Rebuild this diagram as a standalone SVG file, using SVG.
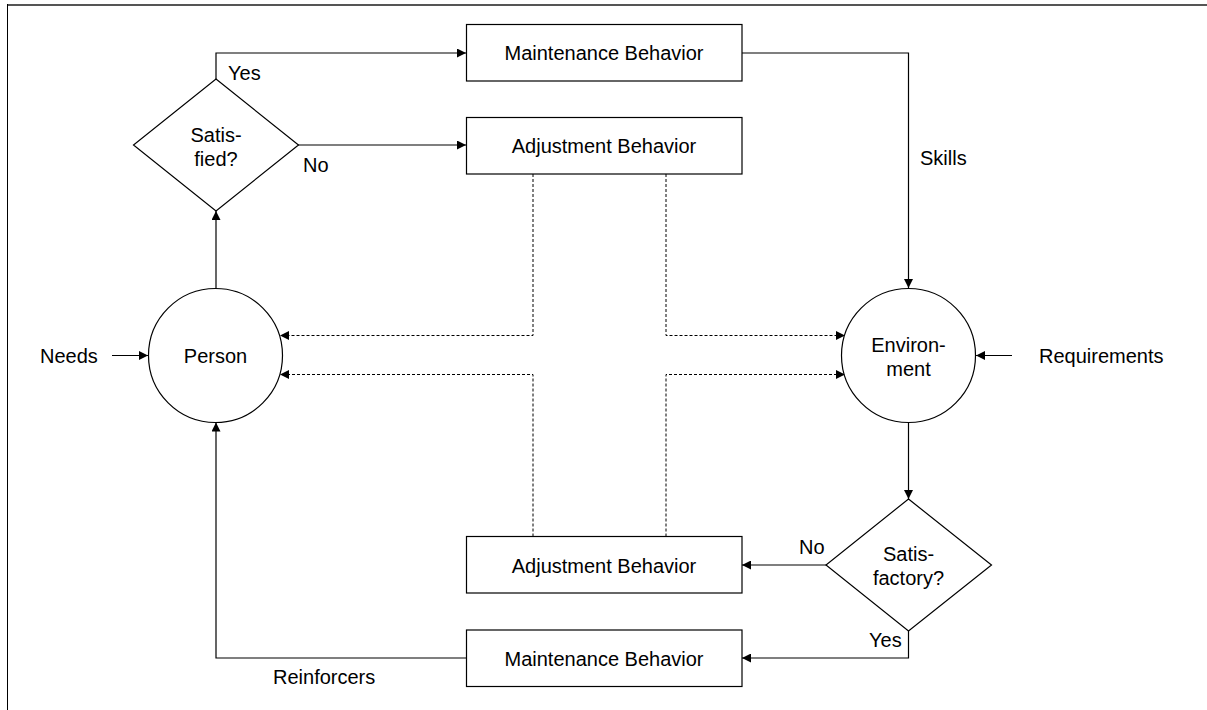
<svg xmlns="http://www.w3.org/2000/svg" width="1207" height="710" viewBox="0 0 1207 710">
<style>
.shape{fill:#fff;stroke:#000;stroke-width:1.2}
.t{font-family:"Liberation Sans",Arial,sans-serif;font-size:20px;fill:#000}
.c{text-anchor:middle}
.ln{fill:none;stroke:#000;stroke-width:1.2}
.dash{fill:none;stroke:#000;stroke-width:1;stroke-dasharray:3,2}
</style>
<defs>
<marker id="arr" viewBox="0 0 10 10" refX="10" refY="5" markerWidth="9" markerHeight="9" markerUnits="userSpaceOnUse" orient="auto">
<path d="M0,0 L10,5 L0,10 z" fill="#000"/>
</marker>
</defs>
<rect width="1207" height="710" fill="#fff"/>
<g id="frame">
<line x1="7" y1="5" x2="1207" y2="5" stroke="#555" stroke-width="2"/>
<line x1="7.5" y1="4" x2="7.5" y2="710" stroke="#000" stroke-width="1"/>
</g>
<g id="connectors">
<path class="ln" d="M216,79 V53 H466" marker-end="url(#arr)"/>
<path class="ln" d="M298,145 H466" marker-end="url(#arr)"/>
<path class="ln" d="M216,288 V211" marker-end="url(#arr)"/>
<path class="ln" d="M112,355.5 H148" marker-end="url(#arr)"/>
<path class="ln" d="M742,53 H908.5 V288" marker-end="url(#arr)"/>
<path class="ln" d="M1012,355.5 H976" marker-end="url(#arr)"/>
<path class="ln" d="M908.5,422.5 V499" marker-end="url(#arr)"/>
<path class="ln" d="M826,565 H742" marker-end="url(#arr)"/>
<path class="ln" d="M908.5,631 V658 H742" marker-end="url(#arr)"/>
<path class="ln" d="M466,658 H216 V422.5" marker-end="url(#arr)"/>
<path class="dash" d="M533,174 V335.5 H280" marker-end="url(#arr)"/>
<path class="dash" d="M666,174 V335.5 H845" marker-end="url(#arr)"/>
<path class="dash" d="M533,536.5 V374.5 H280" marker-end="url(#arr)"/>
<path class="dash" d="M666,536.5 V374.5 H845" marker-end="url(#arr)"/>
</g>
<g id="labels">
<text class="t" x="228" y="80">Yes</text>
<text class="t" x="303" y="172">No</text>
<text class="t" x="920" y="165">Skills</text>
<text class="t" x="40" y="363">Needs</text>
<text class="t" x="1039" y="363">Requirements</text>
<text class="t" x="799" y="554">No</text>
<text class="t" x="869" y="647">Yes</text>
<text class="t" x="273" y="684">Reinforcers</text>
</g>
<g id="satisfied">
<polygon class="shape" points="216,79 298.5,145 216,211 133.5,145"/>
<text class="t c" x="216" y="142">Satis-</text>
<text class="t c" x="216" y="166">fied?</text>
</g>
<g id="maint-top">
<rect class="shape" x="466.5" y="24.5" width="275.5" height="56.5"/>
<text class="t c" x="604" y="60">Maintenance Behavior</text>
</g>
<g id="adjust-top">
<rect class="shape" x="466.5" y="117.5" width="275.5" height="56.5"/>
<text class="t c" x="604" y="153">Adjustment Behavior</text>
</g>
<g id="person">
<circle class="shape" cx="215.5" cy="355.5" r="67"/>
<text class="t c" x="215.5" y="363">Person</text>
</g>
<g id="environment">
<circle class="shape" cx="908.5" cy="355.5" r="67"/>
<text class="t c" x="908.5" y="352">Environ-</text>
<text class="t c" x="908.5" y="376">ment</text>
</g>
<g id="satisfactory">
<polygon class="shape" points="908.5,499 991.5,565 908.5,631 826,565"/>
<text class="t c" x="908.5" y="561">Satis-</text>
<text class="t c" x="908.5" y="585">factory?</text>
</g>
<g id="adjust-bottom">
<rect class="shape" x="466.5" y="536.5" width="275.5" height="56.5"/>
<text class="t c" x="604" y="573">Adjustment Behavior</text>
</g>
<g id="maint-bottom">
<rect class="shape" x="466.5" y="630" width="275.5" height="56.5"/>
<text class="t c" x="604" y="666">Maintenance Behavior</text>
</g>
</svg>
